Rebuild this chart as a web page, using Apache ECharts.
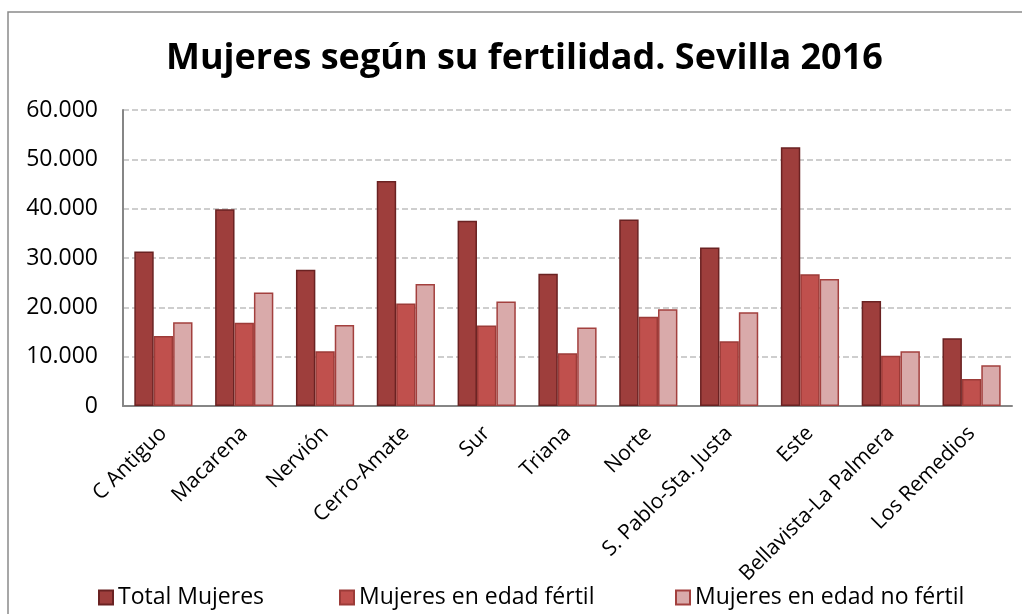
<!DOCTYPE html>
<html>
<head>
<meta charset="utf-8">
<script src="https://cdn.jsdelivr.net/npm/echarts@6/dist/echarts.min.js"></script>
<style>
  html, body { margin: 0; padding: 0; background: #fff; }
  #main { width: 1022px; height: 614px; }
</style>
</head>
<body>
<div id="main"></div>
<script>
// distritos
var distritos = ['C Antiguo', 'Macarena', 'Nervión', 'Cerro-Amate', 'Sur', 'Triana', 'Norte',
  'S. Pablo-Sta. Justa', 'Este', 'Bellavista-La Palmera', 'Los Remedios'];

// valores
var totalMujeres = [31300, 39900, 27600, 45600, 37550, 26800, 37800, 32150, 52450, 21300, 13750];
var edadFertil   = [14200, 16900, 11100, 20800, 16300, 10700, 18100, 13100, 26700, 10200, 5450];
var edadNoFertil = [17000, 23000, 16400, 24750, 21200, 15900, 19600, 19000, 25750, 11100, 8250];

var yTicks = ['0', '10.000', '20.000', '30.000', '40.000', '50.000', '60.000'];

var fuente = '"Open Sans", "DejaVu Sans", sans-serif';

var myChart = echarts.init(document.getElementById('main'));

function serie(name, data, fill, border) {
  return {
    name: name,
    type: 'bar',
    data: data,
    barGap: '0%',
    barCategoryGap: '28%',
    itemStyle: { color: fill, borderColor: border, borderWidth: 1.5 }
  };
}

function leyenda(name, left) {
  return {
    data: [name],
    left: left,
    top: 586,
    icon: 'rect',
    itemWidth: 14,
    itemHeight: 14,
    padding: 0,
    selectedMode: false,
    textStyle: { fontFamily: fuente, fontSize: 23, color: '#000' }
  };
}

var option = {
  backgroundColor: '#fff',
  animation: false,
  graphic: [{
    type: 'rect',
    shape: { x: 8, y: 12, width: 1100, height: 700 },
    style: { fill: 'none', stroke: '#8a8a8a', lineWidth: 1.5 },
    silent: true
  }],
  title: {
    text: 'Mujeres según su fertilidad. Sevilla 2016',
    left: 166,
    top: 41,
    padding: 0,
    textStyle: { fontFamily: fuente, fontSize: 36, fontWeight: 'bold', color: '#000' }
  },
  legend: [
    leyenda('Total Mujeres', 98),
    leyenda('Mujeres en edad fértil', 339),
    leyenda('Mujeres en edad no fértil', 675)
  ],
  grid: { left: 123, right: 10, top: 110, bottom: 208 },
  xAxis: {
    type: 'category',
    data: distritos,
    axisLine: { lineStyle: { color: '#868686', width: 2 } },
    axisTick: { show: false },
    axisLabel: {
      rotate: 45,
      interval: 0,
      margin: 24,
      fontFamily: fuente,
      fontSize: 21,
      color: '#000'
    }
  },
  yAxis: {
    type: 'value',
    min: 0,
    max: 60000,
    interval: 10000,
    axisLine: { show: true, lineStyle: { color: '#868686', width: 2 } },
    axisTick: { show: false },
    splitLine: { lineStyle: { color: '#bfbfbf', type: [6, 3], width: 1.5 } },
    axisLabel: {
      margin: 25,
      fontFamily: fuente,
      fontSize: 23,
      color: '#000',
      formatter: function (v) { return yTicks[Math.round(v / 10000)]; }
    }
  },
  series: [
    serie('Total Mujeres', totalMujeres, '#9e3e3c', '#6a2222'),
    serie('Mujeres en edad fértil', edadFertil, '#c0504d', '#9c3b38'),
    serie('Mujeres en edad no fértil', edadNoFertil, '#d9aaaa', '#a3403e')
  ]
};

myChart.setOption(option);
</script>
</body>
</html>
